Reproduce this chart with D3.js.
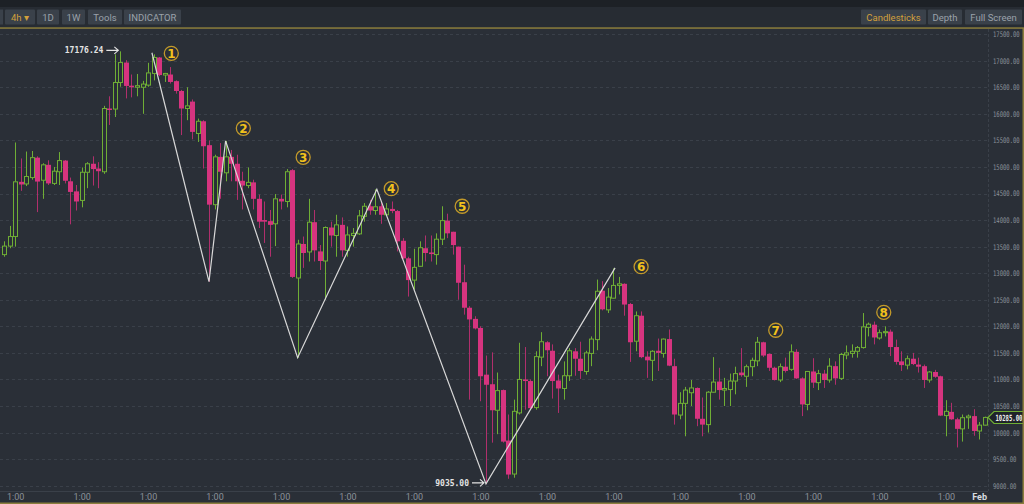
<!DOCTYPE html>
<html><head><meta charset="utf-8">
<script src="https://cdn.jsdelivr.net/npm/d3@7"></script>
<style>
html,body{margin:0;padding:0;background:#2a2f37;overflow:hidden}
svg{display:block}
</style></head><body>
<svg id="c" width="1024" height="504"></svg>
<script>
// ---- data (BTC/USD style 4h candles) ----
const opens = [13350,13510,13690,14720,14680,14800,15175,14750,15040,14690,14910,15120,14730,14540,14370,14900,15060,14970,14910,16100,
16090,16590,16965,16530,16500,16500,16540,16760,17060,16730,16740,16615,16430,16100,16230,15630,15860,15410,14290,15190,
14890,15190,15060,14740,14650,14710,14400,14000,13980,13930,14400,14350,14940,12910,13550,13400,13960,13410,13230,13860,
13710,13910,13430,13710,13740,14070,14260,14180,14260,14100,14210,14170,13610,13280,12870,13130,13470,13390,13350,13640,
13990,13780,13500,12830,12350,12140,11970,11090,10910,10420,10800,9850,9220,10370,11000,10970,10470,11420,11700,11540,
10980,10830,11070,11530,11390,11150,11490,11750,12670,12310,12530,12770,12800,12420,11720,12200,11430,11360,11540,11490,
11760,11250,10330,10550,10750,10840,10260,10150,10760,10960,10800,10810,10970,11130,11060,11240,11350,11700,11480,11220,
10990,11240,11190,11520,11020,10530,11150,10940,11110,10990,11250,11020,11460,11490,11530,11600,11980,12030,11780,11880,
11900,11610,11340,11270,11390,11280,11250,10990,11140,11060,10320,10390,10250,10070,10280,10310,10030,10140];
const highs = [13600,13890,15460,15160,15290,15300,15200,15070,15125,15000,15280,15130,14800,14660,14990,15090,15200,15090,16150,16330,
17120,17176.24,17010,16740,16750,16620,16960,17120,17070,16770,16880,16630,16450,16500,16270,15910,15880,15500,15230,15450,
15490,15320,15230,14910,14990,14760,14480,14350,14190,14490,14480,14960,14960,13630,13690,14400,14190,13530,13880,13970,
14100,14050,13880,13850,14190,14320,14380,14580,14350,14320,14350,14190,13660,13310,13460,13600,13710,13710,13750,14260,
14120,13780,13500,13160,12380,12190,12000,11450,11510,11130,10810,10340,10620,11690,11610,11000,11530,11890,11720,11660,
11090,11340,11590,11590,11710,11540,11810,12880,12850,12720,13090,12930,12810,12440,12280,12280,11530,11550,11770,11770,
11940,11390,10760,10860,10990,10850,10660,10780,11420,11220,11030,11110,11240,11590,11280,11410,11800,11710,11490,11240,
11300,11410,11660,11570,11040,11160,11400,11180,11180,11400,11340,11500,11640,11660,11630,12250,12070,12090,11940,12000,
11940,11750,11530,11450,11500,11410,11280,11160,11180,11070,10610,10560,10280,10340,10340,10440,10200,10300];
const lows = [13310,13470,13500,14550,14640,14760,14150,14400,14660,14660,14660,14690,13920,14180,14240,14600,14650,14600,14870,15790,
15940,16510,16290,16310,16330,16000,16510,16630,16710,16600,16570,16380,15600,15880,15520,15470,14970,12840,14200,14400,
14730,14730,14380,14200,14600,14200,13850,13570,13310,13510,14200,14240,12910,11410,13100,13220,13220,13060,12500,13500,
13310,13310,13310,13500,13720,13970,14100,14100,13930,14100,14130,13410,13270,12560,12690,13120,13220,13220,13160,13530,
13660,13350,12500,12220,10620,11940,10590,9035,9810,9970,9810,9130,9150,10340,10430,10460,10430,11250,11060,10640,
10370,10620,10970,11070,11010,11090,11250,11550,12300,12250,12520,12600,12200,11330,11530,11400,11030,10970,11160,11410,
11250,10150,10250,9930,10500,10120,9930,10000,10750,10620,10500,10500,10720,11050,10860,11060,11250,11420,11160,10980,
10950,11130,11160,11010,10310,10420,10840,10800,10840,10940,10900,10990,11380,11410,11410,11580,11810,11660,11750,11810,
11440,11280,11160,11190,11270,11130,10840,10940,11030,10310,9930,10240,9720,9830,10070,9940,9870,10130];
const closes = [13510,13690,14720,14670,14820,15175,14725,15040,14690,14920,15120,14740,14530,14350,14900,15060,14960,14920,16100,16075,
16590,16965,16525,16500,16530,16560,16770,17060,16730,16760,16600,16430,16100,16150,15660,15860,15390,14290,15190,14910,
15190,15060,14730,14650,14710,14400,13970,13970,13910,14400,14350,14910,12930,13550,13380,13960,13430,13230,13860,13710,
13910,13430,13720,13750,14080,14260,14180,14250,14100,14210,14170,13600,13280,12870,13110,13480,13380,13360,13640,13990,
13750,13530,12820,12350,12130,11960,11060,10900,10420,10790,9830,9210,10400,11000,10970,10460,11430,11710,11550,10970,
10830,11070,11540,11390,11160,11500,11760,12660,12320,12550,12770,12800,12410,11700,12200,11420,11360,11530,11500,11760,
11260,10340,10550,10800,10840,10260,10150,10760,10950,10800,10830,10970,11110,11080,11240,11360,11700,11450,11220,10990,
11240,11160,11520,11020,10530,11150,10940,11110,10990,11250,11020,11470,11500,11530,11600,11990,12040,11790,11880,11900,
11610,11330,11270,11390,11290,11240,10990,11140,11050,10320,10400,10250,10070,10280,10310,10030,10140,10285];

const yTicks = [9000,9500,10000,10500,11000,11500,12000,12500,13000,13500,14000,14500,15000,15500,16000,16500,17000,17500];
const xTickIdx = [2,14,26,38,50,62,74,86,98,110,122,134,146,158,170,176];
const xTickLabels = ["1:00","1:00","1:00","1:00","1:00","1:00","1:00","1:00","1:00","1:00","1:00","1:00","1:00","1:00","1:00","Feb"];

// zigzag wave line
const zzIdx = [26.7, 37, 40, 53, 67.3, 87, 110.3];
const zzPrice = [17150, 12840, 15490, 11410, 14580, 9035, 13100];
// circled wave labels
const markIdx = [30.2, 43.2, 54.0, 69.9, 82.7, 115.0, 139.3, 158.8];
const markPrice = [17139, 15728, 15182, 14591, 14260, 13123, 11926, 12264];
const markText = ["1","2","3","4","5","6","7","8"];

const leftButtons = ["4h ▾","1D","1W","Tools","INDICATOR"];
const rightButtons = ["Candlesticks","Depth","Full Screen"];

// ---- drawing ----
const W = 1024, H = 504;
const plotL = 0, plotR = 988, plotT = 29, plotB = 491;
const GREEN = "#6fae35", PINK = "#d6347f", BG = "#2a2f37", OLIVE = "#8a7d3c";

const svg = d3.select("#c");
svg.append("rect").attr("width", W).attr("height", H).attr("fill", BG);
svg.append("rect").attr("width", W).attr("height", 7).attr("fill", "#1d2126");
svg.append("rect").attr("y", 7).attr("width", W).attr("height", 21).attr("fill", "#272c33");

const x = d3.scaleLinear().domain([0, 177]).range([4, 984.6]);
const y = d3.scaleLinear().domain([9000, 17000]).range([485.7, 60.7]);

// toolbar buttons
const lbx = [5, 37, 62, 88, 124], lbw = [30, 22, 23, 34, 57];
const rbx = [861, 928, 965], rbw = [65, 34, 57];
const tb = svg.append("g").attr("font-family", "Roboto, 'Noto Sans', sans-serif").attr("font-size", 9.5);
tb.append("rect").attr("x", -3).attr("y", 9.5).attr("width", 6).attr("height", 15).attr("fill", "#3a414a");
leftButtons.forEach((t, i) => {
  tb.append("rect").attr("x", lbx[i]).attr("y", 9.5).attr("width", lbw[i]).attr("height", 15).attr("rx", 1).attr("fill", "#3a414a");
  tb.append("text").attr("x", lbx[i] + lbw[i] / 2).attr("y", 20.5).attr("text-anchor", "middle")
    .attr("fill", i === 0 ? "#d2a03c" : "#9ba2aa").text(t);
});
rightButtons.forEach((t, i) => {
  tb.append("rect").attr("x", rbx[i]).attr("y", 9.5).attr("width", rbw[i]).attr("height", 15).attr("rx", 1).attr("fill", "#3a414a");
  tb.append("text").attr("x", rbx[i] + rbw[i] / 2).attr("y", 20.5).attr("text-anchor", "middle")
    .attr("fill", i === 0 ? "#d2a03c" : "#9ba2aa").text(t);
});
svg.append("rect").attr("x", 0).attr("y", 27.3).attr("width", W).attr("height", 1.5).attr("fill", OLIVE);

// grid
const grid = svg.append("g");
yTicks.forEach(v => {
  grid.append("line").attr("x1", plotL).attr("x2", plotR).attr("y1", Math.round(y(v)) + 0.5).attr("y2", Math.round(y(v)) + 0.5)
    .attr("stroke", "#3a4049").attr("stroke-dasharray", "3,3");
});
grid.append("line").attr("x1", plotR + 0.5).attr("x2", plotR + 0.5).attr("y1", plotT).attr("y2", plotB)
  .attr("stroke", "#3a4049").attr("stroke-dasharray", "3,2");
grid.append("line").attr("x1", 0).attr("x2", plotR).attr("y1", plotB + 0.5).attr("y2", plotB + 0.5)
  .attr("stroke", "#3a4049");

// y axis (labels horizontally condensed so they fit the narrow right gutter)
const yAxis = svg.append("g").attr("transform", `translate(993,0)`)
  .call(d3.axisRight(y).tickValues(yTicks).tickFormat(d => d.toFixed(2)).tickSize(0).tickPadding(0));
yAxis.select(".domain").remove();
yAxis.selectAll("text").attr("fill", "#8b9199").attr("font-family", "'DejaVu Sans Mono', monospace").attr("font-size", 7.6)
  .attr("transform", "scale(0.73,1)");

// x axis
const xAxis = svg.append("g").attr("transform", `translate(0,${plotB})`)
  .call(d3.axisBottom(x).tickValues(xTickIdx).tickFormat((d, i) => xTickLabels[i]).tickSize(0).tickPadding(3));
xAxis.select(".domain").remove();
xAxis.selectAll("text").attr("fill", (d, i) => xTickLabels[i] === "Feb" ? "#d8dce0" : "#8b9199")
  .attr("font-weight", (d, i) => xTickLabels[i] === "Feb" ? "bold" : "normal")
  .attr("font-family", "Roboto, sans-serif").attr("font-size", 9);

// candles
const clip = svg.append("clipPath").attr("id", "pc").append("rect")
  .attr("x", plotL).attr("y", plotT).attr("width", plotR - plotL).attr("height", plotB - plotT);
const cg = svg.append("g").attr("clip-path", "url(#pc)");
const idx = d3.range(opens.length);
const bw = 4;
idx.forEach(i => {
  const up = closes[i] >= opens[i];
  const col = up ? GREEN : PINK;
  const cx = Math.round(x(i)) + 0.5;
  const yt = y(Math.max(opens[i], closes[i])), yb = y(Math.min(opens[i], closes[i]));
  if (up) {
    cg.append("line").attr("x1", cx).attr("x2", cx).attr("y1", y(highs[i])).attr("y2", yt).attr("stroke", col);
    cg.append("line").attr("x1", cx).attr("x2", cx).attr("y1", yb).attr("y2", y(lows[i])).attr("stroke", col);
    cg.append("rect").attr("x", cx - bw / 2).attr("y", yt).attr("width", bw).attr("height", Math.max(1, yb - yt))
      .attr("fill", BG).attr("stroke", col).attr("stroke-width", 1);
  } else {
    cg.append("line").attr("x1", cx).attr("x2", cx).attr("y1", y(highs[i])).attr("y2", y(lows[i])).attr("stroke", "#b02f6c");
    cg.append("rect").attr("x", cx - bw / 2 - 0.5).attr("y", yt).attr("width", bw + 1).attr("height", Math.max(1.5, yb - yt))
      .attr("fill", col);
  }
});

// zigzag
const zz = d3.line().x(d => x(d[0])).y(d => y(d[1]));
cg.append("path").attr("d", zz(zzIdx.map((d, i) => [d, zzPrice[i]])))
  .attr("fill", "none").attr("stroke", "#d8d8d8").attr("stroke-width", 1.2);

// wave marks
markIdx.forEach((d, i) => {
  const g = svg.append("g").attr("transform", `translate(${x(d)},${y(markPrice[i])})`);
  g.append("circle").attr("r", 7).attr("fill", "none").attr("stroke", "#c39a2a").attr("stroke-width", 1.3);
  g.append("text").attr("y", 4.5).attr("text-anchor", "middle").attr("fill", "#f2c21b")
    .attr("font-family", "'DejaVu Sans', sans-serif").attr("font-weight", "bold").attr("font-size", 12).text(markText[i]);
});

// high / low annotations
function arrowLabel(i, price, label, dy) {
  const ax = x(i) - 2, ay = y(price) + dy;
  const g = svg.append("g");
  g.append("path").attr("d", `M${ax - 12},${ay} L${ax},${ay} M${ax - 4},${ay - 3.5} L${ax},${ay} L${ax - 4},${ay + 3.5}`)
    .attr("fill", "none").attr("stroke", "#e4e4e4").attr("stroke-width", 1.1);
  g.append("text").attr("x", ax - 15).attr("y", ay + 3).attr("text-anchor", "end").attr("fill", "#e4e4e4")
    .attr("font-family", "'DejaVu Sans Mono', monospace").attr("font-weight", "bold").attr("font-size", 8).text(label);
}
const hiIdx = highs.indexOf(d3.max(highs)), loIdx = lows.indexOf(d3.min(lows));
arrowLabel(hiIdx, highs[hiIdx], highs[hiIdx].toFixed(2), -1);
arrowLabel(loIdx, lows[loIdx], lows[loIdx].toFixed(2), -1);

// last price tag
const last = closes[closes.length - 1];
const ly = Math.round(y(last)) + 0.5;
svg.append("path").attr("d", `M${plotR},${ly} L${plotR + 6},${ly - 6} L${W + 2},${ly - 6} L${W + 2},${ly + 6} L${plotR + 6},${ly + 6} Z`)
  .attr("fill", "#1f2329").attr("stroke", GREEN).attr("stroke-width", 1.2);
svg.append("g").attr("transform", `translate(995.5,${ly + 3}) scale(0.66,1)`)
  .append("text").attr("fill", "#f0f0f0")
  .attr("font-family", "'DejaVu Sans Mono', monospace").attr("font-weight", "bold").attr("font-size", 8.5)
  .text(last.toFixed(2));

// frame edges
svg.append("rect").attr("x", 1022.5).attr("y", 28).attr("width", 1.5).attr("height", H - 28).attr("fill", OLIVE);
svg.append("rect").attr("x", 0).attr("y", 502.5).attr("width", W).attr("height", 1.5).attr("fill", OLIVE);
</script>
</body></html>
